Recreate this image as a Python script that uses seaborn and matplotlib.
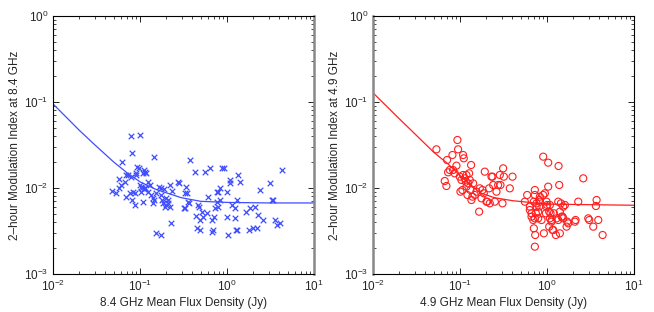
import numpy as np
import pandas as pd
import matplotlib
matplotlib.use("Agg")
import matplotlib.pyplot as plt
import seaborn as sns
from matplotlib.ticker import LogLocator

# ---- data (zoomed panel pixel coords converted to data) ----
# left panel points: pixel coordinates in the 3x zoom, converted below
left_px = [
    (338, 573), (358, 537), (368, 485), (358, 565), (378, 590), (380, 525), (385, 525),
    (395, 408), (397, 458), (395, 530), (400, 575), (398, 600), (405, 615), (410, 525),
    (413, 500), (420, 405), (418, 505), (422, 555), (425, 575), (428, 565), (430, 605),
    (432, 510), (435, 515), (437, 565), (440, 520), (445, 545), (450, 555), (455, 585),
    (460, 595), (462, 600), (463, 472), (468, 700), (470, 580), (478, 560), (485, 565),
    (488, 600), (490, 610), (495, 620), (500, 595), (505, 610), (510, 555), (515, 670),
    (510, 620), (535, 545), (538, 550), (555, 625), (560, 560), (562, 580), (568, 608),
    (572, 480), (585, 515), (590, 648), (597, 620), (600, 660), (605, 635), (610, 650),
    (615, 515), (625, 590), (630, 505), (620, 640), (635, 660), (640, 690), (645, 625),
    (650, 605), (655, 620), (660, 600), (665, 505), (672, 505), (680, 575), (680, 650),
    (685, 705), (690, 550), (690, 540), (695, 615), (705, 655), (708, 690), (715, 525),
    (720, 545), (705, 625), (710, 600), (712, 690), (738, 635), (748, 690), (750, 625),
    (760, 685), (765, 620), (770, 685), (775, 645), (780, 570), (790, 660), (810, 550),
    (815, 600), (820, 600), (825, 660), (830, 675), (840, 670), (845, 510), (635, 695),
    (642, 650), (600, 690), (592, 685), (485, 705), (460, 610), (375, 545), (365, 555),
    (350, 580), (408, 520), (425, 562), (433, 567), (445, 575), (483, 585), (492, 568),
    (517, 572), (430, 520), (437, 565), (390, 580), (405, 578), (650, 575), (655, 575),
    (660, 565), (500, 615), (505, 600), (553, 625), (565, 605), (595, 615), (555, 580),
]
right_px = [
    (320, 448), (352, 480), (368, 465), (345, 543), (350, 558), (355, 517), (360, 510),
    (370, 510), (375, 520), (380, 497), (383, 420), (385, 448), (390, 530), (392, 575),
    (395, 540), (398, 570), (400, 525), (400, 465), (402, 475), (405, 535), (408, 545),
    (410, 525), (410, 560), (413, 585), (415, 550), (418, 520), (420, 540), (422, 570),
    (424, 495), (425, 600), (428, 590), (430, 550), (435, 585), (440, 575), (448, 635),
    (450, 565), (455, 595), (458, 570), (462, 580), (465, 515), (470, 605), (472, 605),
    (478, 565), (480, 610), (485, 530), (488, 530), (490, 555), (495, 605), (500, 575),
    (505, 555), (510, 525), (512, 555), (518, 610), (520, 505), (522, 530), (540, 565),
    (548, 530), (585, 605), (592, 585), (600, 620), (605, 650), (610, 660), (615, 585),
    (612, 605), (620, 620), (625, 635), (628, 600), (630, 590), (615, 570), (618, 640),
    (625, 655), (628, 620), (640, 585), (645, 580), (642, 700), (655, 560), (658, 635),
    (660, 615), (640, 470), (655, 488), (615, 655), (635, 660), (605, 640), (600, 630),
    (612, 685), (616, 705), (615, 740), (620, 610), (630, 605), (650, 620), (648, 640),
    (652, 615), (650, 605), (660, 655), (665, 660), (662, 640), (670, 690), (672, 640),
    (680, 655), (685, 660), (690, 700), (700, 655), (695, 650), (700, 620), (705, 615),
    (712, 665), (688, 555), (690, 635), (685, 605), (693, 610), (678, 705), (686, 498),
    (698, 650), (710, 680), (715, 670), (735, 665), (737, 660), (745, 605), (760, 535),
    (775, 655), (778, 660), (790, 680), (800, 600), (798, 618), (805, 660), (818, 705),
    (668, 690), (665, 665), (658, 680),
]

left_flux = [10 ** (-2 + (x - 160) / 260.7) for x, y in left_px]
left_mod = [10 ** (-(y - 48) / 258.0) for x, y in left_px]
right_flux = [10 ** (-2 + (x - 130) / 260.7) for x, y in right_px]
right_mod = [10 ** (-(y - 48) / 258.0) for x, y in right_px]

# fitted curves
left_fit_flux = [0.01, 0.015, 0.02, 0.03, 0.05, 0.07, 0.1, 0.15, 0.2, 0.3, 0.5, 1, 3, 10]
left_fit_mod = [0.095, 0.063, 0.047, 0.032, 0.020, 0.0152, 0.0118, 0.0097, 0.0088, 0.0077,
                0.0070, 0.0068, 0.0067, 0.0067]
right_fit_flux = [0.01, 0.02, 0.03, 0.05, 0.073, 0.1, 0.17, 0.25, 0.41, 1, 3, 10]
right_fit_mod = [0.128, 0.064, 0.043, 0.026, 0.019, 0.0140, 0.0088, 0.0077, 0.0071,
                 0.0065, 0.0064, 0.0063]

sns.set_style("ticks")
plt.rcParams["font.family"] = ["Liberation Sans", "DejaVu Sans"]

fig = plt.figure(figsize=(6.54, 3.12), dpi=100)
ax1 = fig.add_axes([53 / 654, 38 / 312, 261 / 654, 258 / 312])
ax2 = fig.add_axes([373 / 654, 38 / 312, 261 / 654, 258 / 312])

blue = "#3f4dff"
red = "#ff1f1f"

sns.lineplot(x=left_fit_flux, y=left_fit_mod, ax=ax1, color=blue, lw=0.9)
sns.scatterplot(x=left_flux, y=left_mod, ax=ax1, marker="x", color=blue, s=16,
                linewidth=0.9)
sns.lineplot(x=right_fit_flux, y=right_fit_mod, ax=ax2, color=red, lw=0.9)
sns.scatterplot(x=right_flux, y=right_mod, ax=ax2, marker="o", facecolor="none",
                edgecolor=red, s=26, linewidth=0.8)

for ax, lab in [(ax1, "8.4"), (ax2, "4.9")]:
    ax.set_xscale("log")
    ax.set_yscale("log")
    ax.set_xlim(1e-2, 1e1)
    ax.set_ylim(1e-3, 1e0)
    ax.xaxis.set_major_locator(LogLocator(base=10, numticks=10))
    ax.yaxis.set_major_locator(LogLocator(base=10, numticks=10))
    ax.tick_params(which="both", direction="in", top=True, right=True, labelsize=8.5,
                   color="black")
    ax.tick_params(which="major", length=4, width=0.6)
    ax.tick_params(which="minor", length=2, width=0.5)
    ax.set_xlabel(f"{lab} GHz Mean Flux Density (Jy)", fontsize=8.5, labelpad=2)
    ax.set_ylabel(f"2\u2013hour Modulation Index at {lab} GHz", fontsize=8.5, labelpad=2)
    for sp in ax.spines.values():
        sp.set_linewidth(0.8)
        sp.set_color("black")

ax1.spines["right"].set_color("#888888")
ax1.spines["right"].set_linewidth(1.8)
ax2.spines["left"].set_color("#888888")
ax2.spines["left"].set_linewidth(1.8)

fig.savefig("out.png", dpi=100)
